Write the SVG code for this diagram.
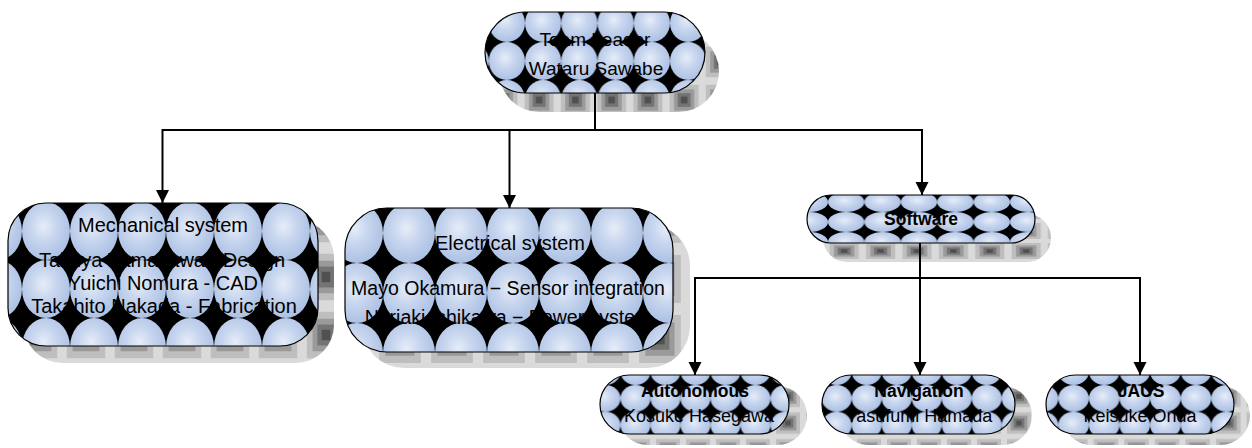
<svg xmlns="http://www.w3.org/2000/svg" xmlns:xlink="http://www.w3.org/1999/xlink" width="1252" height="448" viewBox="0 0 1252 448">
<style>
.node{stroke:#000;stroke-width:1.2}
.t{font-family:"Liberation Sans",Arial,sans-serif;fill:#000;text-anchor:middle}
.b{font-weight:bold}
.c{fill:none;stroke:#000;stroke-width:2}
.a{marker-end:url(#arr)}
</style>
<defs>
<radialGradient id="cg" cx="0.45" cy="0.42" r="0.55">
<stop offset="0" stop-color="#e6edf8"/>
<stop offset="0.45" stop-color="#c9d7ef"/>
<stop offset="1" stop-color="#afc3e5"/>
</radialGradient>
<pattern id="pc" patternUnits="userSpaceOnUse" x="0" y="0" width="30" height="30" viewBox="0 0 1 1" preserveAspectRatio="none">
<rect width="1" height="1" fill="#000"/>
<ellipse cx="0.5" cy="0.5" rx="0.5" ry="0.5" fill="url(#cg)"/>
</pattern>
<pattern id="ps" patternUnits="userSpaceOnUse" x="0" y="0" width="30" height="30" viewBox="0 0 1 1" preserveAspectRatio="none">
<rect width="1" height="1" fill="#dadada"/>
<rect x="0.1" y="0.1" width="0.8" height="0.8" fill="#bebebe"/>
<rect x="0.22" y="0.22" width="0.56" height="0.56" fill="#9a9a9a"/>
<rect x="0.32" y="0.32" width="0.36" height="0.36" fill="#747474"/>
<rect x="0.41" y="0.41" width="0.18" height="0.18" fill="#505050"/>
</pattern>
<pattern id="pc1" xlink:href="#pc" x="525" y="42" width="36.25" height="38"/>
<pattern id="ps1" xlink:href="#ps" x="521" y="43" width="36.25" height="38"/>
<pattern id="pc2" xlink:href="#pc" x="22" y="260" width="48" height="58"/>
<pattern id="ps2" xlink:href="#ps" x="14" y="248" width="48" height="58"/>
<pattern id="pc3" xlink:href="#pc" x="383" y="263" width="52" height="60"/>
<pattern id="ps3" xlink:href="#ps" x="374" y="249" width="52" height="60"/>
<pattern id="pc4" xlink:href="#pc" x="828" y="212" width="36.4" height="20"/>
<pattern id="ps4" xlink:href="#ps" x="826" y="221" width="36.4" height="20"/>
<pattern id="pc5" xlink:href="#pc" x="620.5" y="385" width="30" height="26.7"/>
<pattern id="ps5" xlink:href="#ps" x="623" y="383" width="30" height="26.7"/>
<pattern id="pc6" xlink:href="#pc" x="911.7" y="385" width="30" height="26.7"/>
<pattern id="ps6" xlink:href="#ps" x="914" y="383" width="30" height="26.7"/>
<pattern id="pc7" xlink:href="#pc" x="1058.3" y="385" width="30.6" height="26.7"/>
<pattern id="ps7" xlink:href="#ps" x="1060" y="383" width="30.6" height="26.7"/>
<marker id="arr" markerUnits="userSpaceOnUse" markerWidth="14" markerHeight="14" refX="13" refY="7" orient="auto">
<path d="M0,0.5 L13,7 L0,13.5 z" fill="#000"/>
</marker>
</defs>
<rect width="1252" height="448" fill="#fff"/>

<g id="node-team-leader">
<rect x="499" y="31" width="220" height="81" rx="40.5" fill="url(#ps1)"/>
<rect class="node" x="485" y="12" width="220" height="81" rx="40.5" fill="url(#pc1)"/>
<text class="t" x="595" y="46" font-size="19">Team Leader</text>
<text class="t" x="596" y="75" font-size="19">Wataru Sawabe</text>
</g>

<g id="node-mechanical">
<rect x="24" y="220" width="310" height="143" rx="38" fill="url(#ps2)"/>
<rect class="node" x="8" y="203" width="310" height="143" rx="38" fill="url(#pc2)"/>
<text class="t" x="163" y="232" font-size="20">Mechanical system</text>
<text class="t" x="162" y="267" font-size="20">Takuya Yamakawa - Design</text>
<text class="t" x="163" y="290" font-size="20">Yuichi Nomura - CAD</text>
<text class="t" x="164" y="313" font-size="20">Takahito Nakada - Fabrication</text>
</g>

<g id="node-electrical">
<rect x="362" y="224" width="328" height="144" rx="42" fill="url(#ps3)"/>
<rect class="node" x="345" y="208" width="328" height="144" rx="42" fill="url(#pc3)"/>
<text class="t" x="510" y="250" font-size="20">Electrical system</text>
<text class="t" x="508" y="295" font-size="19.5">Mayo Okamura − Sensor integration</text>
<text class="t" x="508" y="324" font-size="19.5">Noriaki Ishikawa − Power system</text>
</g>

<g id="node-software">
<rect x="823" y="214" width="228" height="48" rx="24" fill="url(#ps4)"/>
<rect class="node" x="807" y="195" width="228" height="48" rx="24" fill="url(#pc4)"/>
<text class="t b" x="921" y="225" font-size="17.5">Software</text>
</g>

<g id="node-autonomous">
<rect x="618" y="386" width="189" height="59" rx="29.5" fill="url(#ps5)"/>
<rect class="node" x="600" y="375" width="189" height="59" rx="29.5" fill="url(#pc5)"/>
<text class="t b" x="695" y="397" font-size="17.5">Autonomous</text>
<text class="t" x="699" y="422" font-size="18">Kosuke Hasegawa</text>
</g>

<g id="node-navigation">
<rect x="839" y="386" width="193" height="59" rx="29.5" fill="url(#ps6)"/>
<rect class="node" x="822" y="375" width="193" height="59" rx="29.5" fill="url(#pc6)"/>
<text class="t b" x="919" y="397" font-size="17.5">Navigation</text>
<text class="t" x="919" y="422" font-size="18">Yasufumi Hamada</text>
</g>

<g id="node-jaus">
<rect x="1062" y="386" width="188" height="59" rx="29.5" fill="url(#ps7)"/>
<rect class="node" x="1046" y="375" width="188" height="59" rx="29.5" fill="url(#pc7)"/>
<text class="t b" x="1141" y="397" font-size="17.5">JAUS</text>
<text class="t" x="1140" y="422" font-size="18">Keisuke Onda</text>
</g>

<g id="connectors">
<path class="c" d="M595,93 V130 M162.5,130 H922"/>
<path class="c a" d="M162.5,129 V203"/>
<path class="c a" d="M509.5,130 V208"/>
<path class="c a" d="M922,129 V195"/>
<path class="c" d="M920,243 V278 M694,278 H1140"/>
<path class="c a" d="M695,277 V375"/>
<path class="c a" d="M920,278 V375"/>
<path class="c a" d="M1140,277 V375"/>
</g>
</svg>
